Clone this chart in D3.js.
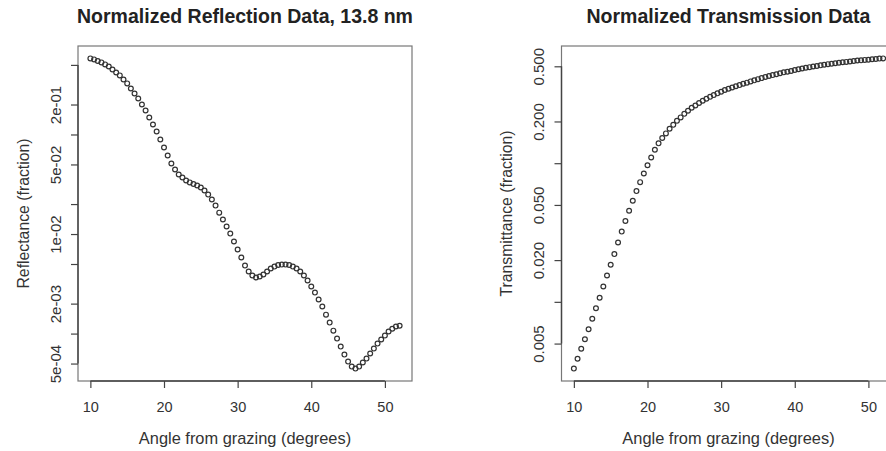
<!DOCTYPE html>
<html>
<head>
<meta charset="utf-8">
<script src="https://cdn.jsdelivr.net/npm/d3@7"></script>
<style>
  body { margin: 0; background: #fff; }
  svg { font-family: "Liberation Sans", Arial, Helvetica, sans-serif; }
</style>
</head>
<body>
<svg id="chart" width="886" height="451"></svg>
<script>
// angles (degrees from grazing), shared by both panels
var angles = [10, 10.5, 11, 11.5, 12, 12.5, 13, 13.5, 14, 14.5, 15, 15.5, 16, 16.5, 17, 17.5,
  18, 18.5, 19, 19.5, 20, 20.5, 21, 21.5, 22, 22.5, 23, 23.5, 24, 24.5, 25, 25.5,
  26, 26.5, 27, 27.5, 28, 28.5, 29, 29.5, 30, 30.5, 31, 31.5, 32, 32.5, 33, 33.5,
  34, 34.5, 35, 35.5, 36, 36.5, 37, 37.5, 38, 38.5, 39, 39.5, 40, 40.5, 41, 41.5,
  42, 42.5, 43, 43.5, 44, 44.5, 45, 45.5, 46, 46.5, 47, 47.5, 48, 48.5, 49, 49.5,
  50, 50.5, 51, 51.5, 52];

var reflectance = [0.581, 0.568, 0.548, 0.530, 0.506, 0.482, 0.450, 0.420, 0.392, 0.357,
  0.326, 0.290, 0.258, 0.230, 0.200, 0.174, 0.148, 0.126, 0.107, 0.0891,
  0.0740, 0.0615, 0.0511, 0.0445, 0.0396, 0.0370, 0.0345, 0.0330, 0.0318, 0.0307,
  0.0293, 0.0274, 0.0249, 0.0222, 0.0193, 0.0164, 0.0140, 0.0119, 0.0101, 0.00841,
  0.00699, 0.00581, 0.00482, 0.00420, 0.00383, 0.00366, 0.00374, 0.00392, 0.00420, 0.00450,
  0.00471, 0.00488, 0.00493, 0.00493, 0.00488, 0.00471, 0.00450, 0.00420, 0.00383, 0.00341,
  0.00297, 0.00258, 0.00220, 0.00187, 0.00155, 0.00129, 0.00107, 0.000891, 0.000740, 0.000615,
  0.000523, 0.000466, 0.000445, 0.000466, 0.000512, 0.000561, 0.000630, 0.000707, 0.000793, 0.000871,
  0.000955, 0.00105, 0.00112, 0.00118, 0.00120];

var transmittance = [0.00330, 0.00389, 0.00459, 0.00537, 0.00634, 0.00755, 0.00898, 0.0107, 0.0129, 0.0155,
  0.0185, 0.0221, 0.0268, 0.0321, 0.0383, 0.0454, 0.0536, 0.0629, 0.0730, 0.0843,
  0.0967, 0.110, 0.125, 0.139, 0.152, 0.164, 0.177, 0.189, 0.202, 0.214,
  0.227, 0.239, 0.251, 0.261, 0.272, 0.282, 0.292, 0.301, 0.310, 0.319,
  0.328, 0.337, 0.344, 0.352, 0.359, 0.366, 0.374, 0.381, 0.389, 0.396,
  0.404, 0.411, 0.419, 0.426, 0.432, 0.438, 0.445, 0.452, 0.457, 0.463,
  0.470, 0.476, 0.482, 0.488, 0.493, 0.498, 0.502, 0.508, 0.513, 0.518,
  0.521, 0.526, 0.530, 0.535, 0.538, 0.542, 0.546, 0.550, 0.552, 0.556,
  0.558, 0.562, 0.565, 0.568, 0.570];

// tick values and labels
var xTicks = [10, 20, 30, 40, 50];
var reflTicks = [5e-1, 2e-1, 1e-1, 5e-2, 2e-2, 1e-2, 5e-3, 2e-3, 1e-3, 5e-4];
var reflLabels = ["", "2e-01", "", "5e-02", "", "1e-02", "", "2e-03", "", "5e-04"];
var transTicks = [0.5, 0.2, 0.1, 0.05, 0.02, 0.01, 0.005];
var transLabels = ["0.500", "0.200", "", "0.050", "0.020", "", "0.005"];

var svg = d3.select("#chart");
var top_ = 46, bottom = 381, plotW = 334;

function panel(left, values, yTicks, yLabels, title, yTitle) {
  var g = svg.append("g");

  // R style: pad the data range by 4% on each side
  var xe = d3.extent(angles), xp = (xe[1] - xe[0]) * 0.04;
  var x = d3.scaleLinear()
      .domain([xe[0] - xp, xe[1] + xp])
      .range([left, left + plotW]);

  var ye = d3.extent(values).map(Math.log10), yp = (ye[1] - ye[0]) * 0.04;
  var y = d3.scaleLog()
      .domain([Math.pow(10, ye[0] - yp), Math.pow(10, ye[1] + yp)])
      .range([bottom, top_]);

  // box
  g.append("rect")
      .attr("x", left)
      .attr("y", top_)
      .attr("width", plotW)
      .attr("height", bottom - top_)
      .attr("fill", "none")
      .attr("stroke", "#777")
      .attr("stroke-width", 1.2);

  // x axis
  var xa = g.append("g")
      .attr("transform", "translate(0," + bottom + ")")
      .call(d3.axisBottom(x).tickValues(xTicks).tickSize(7).tickPadding(14));
  xa.select(".domain").remove();
  xa.append("line")
      .attr("x1", x(xTicks[0]))
      .attr("x2", x(xTicks[xTicks.length - 1]))
      .attr("stroke", "#444")
      .attr("stroke-width", 1.4);
  xa.selectAll(".tick line").attr("stroke", "#444").attr("stroke-width", 1.2);
  xa.selectAll(".tick text")
      .attr("fill", "#333")
      .attr("font-size", 14.5)
      .attr("font-family", "Liberation Sans, Arial, sans-serif");

  // y axis
  var ya = g.append("g")
      .attr("transform", "translate(" + left + ",0)")
      .call(d3.axisLeft(y).tickValues(yTicks).tickSize(7)
        .tickFormat(function(d, i) { return yLabels[i]; }));
  ya.select(".domain").remove();
  ya.append("line")
      .attr("y1", y(yTicks[0]))
      .attr("y2", y(yTicks[yTicks.length - 1]))
      .attr("stroke", "#444")
      .attr("stroke-width", 1.4);
  ya.selectAll(".tick line").attr("stroke", "#444").attr("stroke-width", 1.2);
  ya.selectAll(".tick text")
      .attr("x", 0)
      .attr("dy", null)
      .attr("text-anchor", "middle")
      .attr("transform", "translate(-23,0) rotate(-90)")
      .attr("dominant-baseline", "central")
      .attr("fill", "#333")
      .attr("font-size", 15)
      .attr("font-family", "Liberation Sans, Arial, sans-serif");

  // points (open circles)
  g.append("g").selectAll("circle")
    .data(angles)
    .enter().append("circle")
      .attr("cx", function(d) { return x(d); })
      .attr("cy", function(d, i) { return y(values[i]); })
      .attr("r", 2.4)
      .attr("fill", "none")
      .attr("stroke", "#333")
      .attr("stroke-width", 1.2);

  // titles
  g.append("text")
      .attr("x", left + plotW / 2)
      .attr("y", 22.5)
      .attr("text-anchor", "middle")
      .attr("font-weight", "bold")
      .attr("font-size", 19.5)
      .attr("fill", "#222")
      .text(title);

  g.append("text")
      .attr("x", left + plotW / 2)
      .attr("y", 444)
      .attr("text-anchor", "middle")
      .attr("font-size", 16.4)
      .attr("fill", "#333")
      .text("Angle from grazing (degrees)");

  g.append("text")
      .attr("transform", "translate(" + (left - 55) + "," + ((top_ + bottom) / 2) + ") rotate(-90)")
      .attr("text-anchor", "middle")
      .attr("dominant-baseline", "central")
      .attr("font-size", 15.8)
      .attr("fill", "#333")
      .text(yTitle);
}

panel(78, reflectance, reflTicks, reflLabels, "Normalized Reflection Data, 13.8 nm", "Reflectance (fraction)");
panel(561.5, transmittance, transTicks, transLabels, "Normalized Transmission Data", "Transmittance (fraction)");
</script>
</body>
</html>
